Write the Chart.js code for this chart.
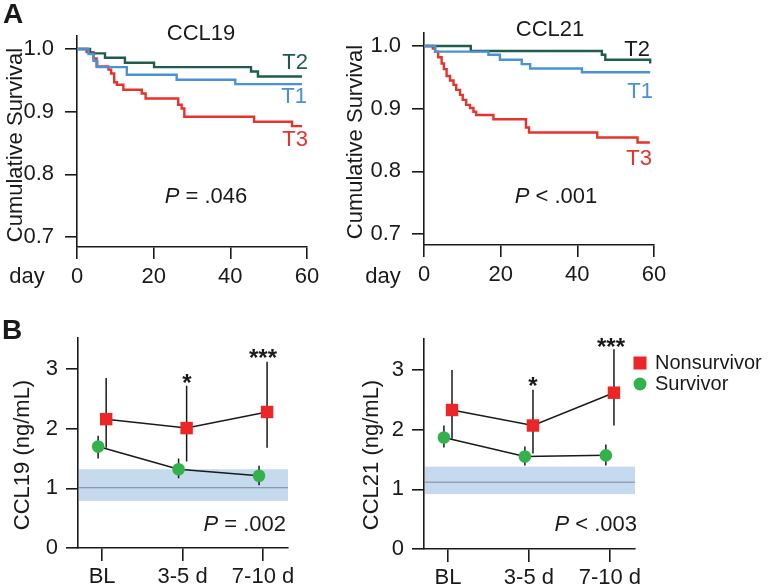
<!DOCTYPE html>
<html>
<head>
<meta charset="utf-8">
<script src="https://cdn.jsdelivr.net/npm/chart.js@4.4.1/dist/chart.umd.min.js"></script>
<style>
  body { margin: 0; background: #fff; }
  #wrap { position: relative; width: 780px; height: 588px; }
  #wrap canvas { position: absolute; left: 0; top: 0; }
</style>
</head>
<body>
<div id="wrap">
  <canvas id="km19" width="780" height="588"></canvas>
  <canvas id="km21" width="780" height="588"></canvas>
  <canvas id="lv19" width="780" height="588"></canvas>
  <canvas id="lv21" width="780" height="588"></canvas>
</div>
<script>
// ---------------- Daten ----------------
const kmTicksX = [0, 20, 40, 60];
const kmTicksY = [0.7, 0.8, 0.9, 1.0];

// CCL19 Kaplan-Meier (Tag, kumulatives Überleben)
const ccl19T1Days = [0, 3, 4.3, 5.3, 13, 26, 41.3, 58.7];
const ccl19T1Surv = [1, 0.992, 0.981, 0.971, 0.959, 0.951, 0.944, 0.944];
const ccl19T2Days = [0, 3.4, 7.3, 12.5, 20.1, 45.4, 47.2, 58.7];
const ccl19T2Surv = [1, 0.993, 0.986, 0.978, 0.971, 0.964, 0.956, 0.956];
const ccl19T3Days = [0, 2.5, 4.3, 5.1, 8.2, 8.9, 9.7, 10.4, 12.1, 16.9, 17.9, 26.4, 27.3, 28.0, 46.2, 56.1, 58.7];
const ccl19T3Surv = [1, 0.995, 0.985, 0.972, 0.967, 0.961, 0.947, 0.943, 0.935, 0.929, 0.921, 0.911, 0.905, 0.892, 0.884, 0.877, 0.877];

// CCL21 Kaplan-Meier
const ccl21T1Days = [0, 2.9, 16.8, 19.8, 25.5, 27.7, 41.2, 59];
const ccl21T1Surv = [1, 0.991, 0.986, 0.978, 0.971, 0.964, 0.958, 0.958];
const ccl21T2Days = [0, 12.2, 46.4, 47.3, 58.7, 59];
const ccl21T2Surv = [1, 0.992, 0.986, 0.978, 0.978, 0.972];
const ccl21T3Days = [0, 2.3, 2.9, 3.7, 4.6, 5.2, 5.9, 6.8, 7.7, 8.4, 9.4, 10.1, 11, 12, 12.9, 13.6, 18.1, 26.6, 27.4, 45.2, 55.7, 58.9];
const ccl21T3Surv = [1, 0.996, 0.991, 0.982, 0.972, 0.963, 0.952, 0.945, 0.938, 0.930, 0.922, 0.914, 0.906, 0.901, 0.895, 0.890, 0.883, 0.870, 0.862, 0.854, 0.846, 0.846];

// Verlauf (ng/mL)
const timeLabels = ["BL", "3-5 d", "7-10 d"];
const levelTicksY = [0, 1, 2, 3];

const ccl19NonSurv   = [2.16, 2.01, 2.28];
const ccl19NonSurvHi = [2.85, 2.72, 3.12];
const ccl19NonSurvLo = [1.68, 1.45, 1.68];
const ccl19Surv      = [1.70, 1.32, 1.21];
const ccl19SurvHi    = [1.88, 1.50, 1.38];
const ccl19SurvLo    = [1.50, 1.17, 1.05];
const ccl19Ref       = [0.79, 1.01, 1.32];   // unten, Median, oben

const ccl21NonSurv   = [2.33, 2.07, 2.62];
const ccl21NonSurvHi = [3.00, 2.67, 3.35];
const ccl21NonSurvLo = [1.85, 1.60, 2.07];
const ccl21Surv      = [1.87, 1.55, 1.57];
const ccl21SurvHi    = [2.07, 1.72, 1.75];
const ccl21SurvLo    = [1.70, 1.40, 1.40];
const ccl21Ref       = [0.92, 1.12, 1.38];

// ---------------- Stil ----------------
const W = 780, H = 588;
const FONT = "'Liberation Sans', Arial, Helvetica, sans-serif";
const INK = "#1a1a1a";
const KM_BLUE = "#4a92d6", KM_GREEN = "#1f5c4d", KM_RED = "#e8322b";
const MARK_RED = "#ec2627", MARK_GREEN = "#33b24c";
const BAND = "#c5d9ef", BAND_LINE = "#7a8794";
const OFFSET = 0.05;

Chart.defaults.font.family = FONT;
Chart.defaults.font.size = 22;
Chart.defaults.color = INK;

function axis(tickLen, pad, extra) {
    return Object.assign({
        type: "linear",
        border: { display: true, color: INK, width: 1.6 },
        grid: { display: true, drawOnChartArea: false, drawTicks: true, tickLength: tickLen, color: INK, lineWidth: 1.6 },
        ticks: { padding: pad, color: INK, autoSkip: false, maxRotation: 0 }
    }, extra);
}

function drawText(ctx, it) {
    ctx.save();
    ctx.translate(it.x, it.y);
    if (it.rotate) ctx.rotate(it.rotate);
    ctx.fillStyle = it.color || INK;
    ctx.textBaseline = "middle";
    ctx.textAlign = "left";
    const size = it.size || 22;
    const parts = it.parts || [{ t: it.t }];
    const fontOf = p => `${p.italic ? "italic " : ""}${it.bold ? "bold " : ""}${size}px ${FONT}`;
    let total = 0;
    parts.forEach(p => { ctx.font = fontOf(p); total += ctx.measureText(p.t).width; });
    let x = it.align === "right" ? -total : it.align === "left" ? 0 : -total / 2;
    parts.forEach(p => { ctx.font = fontOf(p); ctx.fillText(p.t, x, 0); x += ctx.measureText(p.t).width; });
    ctx.restore();
}

function overlay(texts, legend) {
    return {
        id: "overlay",
        afterDraw(chart) {
            const ctx = chart.ctx;
            texts.forEach(t => drawText(ctx, t));
            if (!legend) return;
            ctx.save();
            ctx.fillStyle = MARK_RED;
            ctx.fillRect(legend.x - 6.5, legend.y - 6.5, 13, 13);
            ctx.fillStyle = MARK_GREEN;
            ctx.beginPath();
            ctx.arc(legend.x, legend.y + 21, 6.5, 0, Math.PI * 2);
            ctx.fill();
            ctx.restore();
            drawText(ctx, { t: "Nonsurvivor", x: legend.x + 15, y: legend.y, align: "left", size: 20 });
            drawText(ctx, { t: "Survivor", x: legend.x + 15, y: legend.y + 21, align: "left", size: 20 });
        }
    };
}

// Referenzband + Fehlerbalken
function bandAndBars(ref, bars) {
    return {
        id: "bandBars",
        beforeDatasetsDraw(chart) {
            const { ctx, chartArea: a, scales: { x, y } } = chart;
            const top = y.getPixelForValue(ref[2]);
            const bottom = y.getPixelForValue(ref[0]);
            ctx.save();
            ctx.fillStyle = BAND;
            ctx.fillRect(a.left + 1, top, a.right - a.left - 1, bottom - top);
            ctx.strokeStyle = BAND_LINE;
            ctx.lineWidth = 1;
            ctx.beginPath();
            ctx.moveTo(a.left + 1, y.getPixelForValue(ref[1]));
            ctx.lineTo(a.right, y.getPixelForValue(ref[1]));
            ctx.stroke();

            ctx.strokeStyle = INK;
            ctx.lineWidth = 1.5;
            ctx.beginPath();
            bars.forEach(b => b.lo.forEach((lo, i) => {
                const px = x.getPixelForValue(i + b.off);
                ctx.moveTo(px, y.getPixelForValue(lo));
                ctx.lineTo(px, y.getPixelForValue(b.hi[i]));
            }));
            ctx.stroke();
            ctx.restore();
        }
    };
}

function kmSet(days, surv, color) {
    return {
        data: days.map((d, i) => ({ x: d, y: surv[i] })),
        borderColor: color,
        borderWidth: 2.4,
        stepped: "before",
        pointRadius: 0,
        fill: false
    };
}

function drawKmChart(id, area, yRange, datasets, texts) {
    new Chart(document.getElementById(id), {
        type: "line",
        data: { datasets },
        options: {
            responsive: false,
            animation: false,
            events: [],
            layout: { padding: { left: 0, top: area.top, right: W - area.right, bottom: 0 } },
            plugins: { legend: { display: false }, tooltip: { enabled: false } },
            scales: {
                x: axis(12, 5, {
                    min: 0, max: 60,
                    afterBuildTicks: s => { s.ticks = kmTicksX.map(v => ({ value: v })); },
                    afterFit: s => { s.height = H - area.bottom; }
                }),
                y: axis(12, 11, {
                    min: yRange[0], max: yRange[1],
                    afterBuildTicks: s => { s.ticks = kmTicksY.map(v => ({ value: v })); },
                    afterFit: s => { s.width = area.left; },
                    ticks: { padding: 11, color: INK, callback: v => v.toFixed(1) }
                })
            }
        },
        plugins: [overlay(texts)]
    });
}

function levelSet(values, style, radius, color) {
    return {
        data: values.map((v, i) => ({ x: i + (style === "rect" ? OFFSET : -OFFSET), y: v })),
        borderColor: INK,
        borderWidth: 1.5,
        pointStyle: style,
        pointRadius: radius,
        pointBackgroundColor: color,
        pointBorderColor: color,
        pointBorderWidth: 0,
        fill: false
    };
}

function drawLevelChart(id, area, xRange, d, texts, legend) {
    new Chart(document.getElementById(id), {
        type: "line",
        data: {
            datasets: [
                levelSet(d.sv, "circle", 6.3, MARK_GREEN),
                levelSet(d.ns, "rect", 8.8, MARK_RED)
            ]
        },
        options: {
            responsive: false,
            animation: false,
            events: [],
            layout: { padding: { left: 0, top: area.top, right: W - area.right, bottom: 0 } },
            plugins: { legend: { display: false }, tooltip: { enabled: false } },
            scales: {
                x: axis(13, 3, {
                    min: xRange[0], max: xRange[1],
                    afterBuildTicks: s => { s.ticks = timeLabels.map((_, i) => ({ value: i })); },
                    afterFit: s => { s.height = H - area.bottom; },
                    ticks: { padding: 3, color: INK, callback: v => timeLabels[v] }
                }),
                y: axis(12, 8, {
                    min: 0, max: 3.52,
                    afterBuildTicks: s => { s.ticks = levelTicksY.map(v => ({ value: v })); },
                    afterFit: s => { s.width = area.left; }
                })
            }
        },
        plugins: [
            bandAndBars(d.ref, [
                { lo: d.svLo, hi: d.svHi, off: -OFFSET },
                { lo: d.nsLo, hi: d.nsHi, off: OFFSET }
            ]),
            overlay(texts, legend)
        ]
    });
}

// ---------------- Panel A ----------------
const ROT = -Math.PI / 2;

drawKmChart("km19", { left: 77, top: 36, right: 307, bottom: 247 }, [0.6842, 1.0207], [
    kmSet(ccl19T1Days, ccl19T1Surv, KM_BLUE),
    kmSet(ccl19T2Days, ccl19T2Surv, KM_GREEN),
    kmSet(ccl19T3Days, ccl19T3Surv, KM_RED)
], [
    { t: "A", x: 13, y: 15, bold: true, size: 28 },
    { t: "CCL19", x: 201, y: 34 },
    { t: "T2", x: 308, y: 63, align: "right", color: KM_GREEN },
    { t: "T1", x: 307, y: 97, align: "right", color: KM_BLUE },
    { t: "T3", x: 308, y: 140, align: "right", color: KM_RED },
    { parts: [{ t: "P", italic: true }, { t: " = .046" }], x: 206, y: 197 },
    { t: "Cumulative Survival", x: 16, y: 145, rotate: ROT },
    { t: "day", x: 27, y: 277 }
]);

drawKmChart("km21", { left: 424, top: 33, right: 654, bottom: 245 }, [0.6825, 1.0207], [
    kmSet(ccl21T1Days, ccl21T1Surv, KM_BLUE),
    kmSet(ccl21T2Days, ccl21T2Surv, KM_GREEN),
    kmSet(ccl21T3Days, ccl21T3Surv, KM_RED)
], [
    { t: "CCL21", x: 550, y: 30 },
    { t: "T2", x: 650, y: 50, align: "right" },
    { t: "T1", x: 653, y: 92, align: "right", color: KM_BLUE },
    { t: "T3", x: 652, y: 159, align: "right", color: KM_RED },
    { parts: [{ t: "P", italic: true }, { t: " < .001" }], x: 556, y: 197 },
    { t: "Cumulative Survival", x: 356, y: 142, rotate: ROT },
    { t: "day", x: 383, y: 277 }
]);

// ---------------- Panel B ----------------
drawLevelChart("lv19", { left: 78, top: 338, right: 288, bottom: 548 }, [-0.3, 2.31], {
    ns: ccl19NonSurv, nsHi: ccl19NonSurvHi, nsLo: ccl19NonSurvLo,
    sv: ccl19Surv, svHi: ccl19SurvHi, svLo: ccl19SurvLo, ref: ccl19Ref
}, [
    { t: "B", x: 12, y: 331, bold: true, size: 28 },
    { t: "CCL19 (ng/mL)", x: 23, y: 455, rotate: ROT },
    { t: "*", x: 187, y: 384, bold: true, size: 24 },
    { t: "***", x: 263, y: 359, bold: true, size: 24 },
    { parts: [{ t: "P", italic: true }, { t: " = .002" }], x: 286, y: 525, align: "right" }
]);

drawLevelChart("lv21", { left: 424, top: 339, right: 635, bottom: 549 }, [-0.296, 2.31], {
    ns: ccl21NonSurv, nsHi: ccl21NonSurvHi, nsLo: ccl21NonSurvLo,
    sv: ccl21Surv, svHi: ccl21SurvHi, svLo: ccl21SurvLo, ref: ccl21Ref
}, [
    { t: "CCL21 (ng/mL)", x: 372, y: 455, rotate: ROT },
    { t: "*", x: 533, y: 387, bold: true, size: 24 },
    { t: "***", x: 611, y: 348, bold: true, size: 24 },
    { parts: [{ t: "P", italic: true }, { t: " < .003" }], x: 637, y: 525, align: "right" }
], { x: 640, y: 363 });
</script>
</body>
</html>
